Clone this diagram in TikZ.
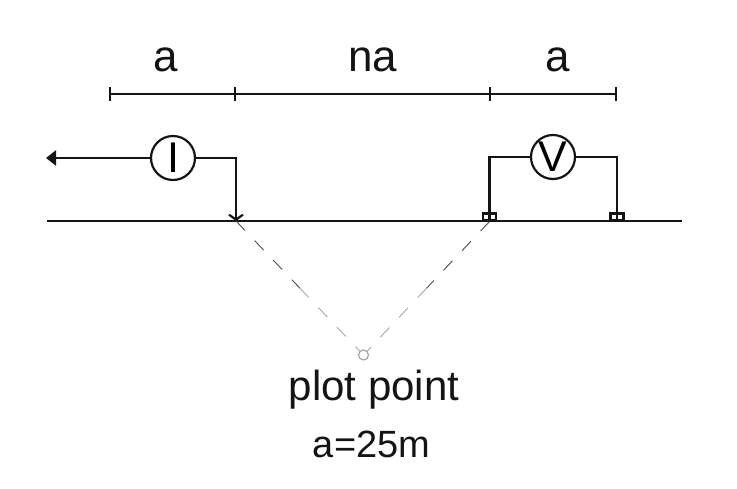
\documentclass[tikz,border=0pt]{standalone}
\usepackage{fontspec}
\setmainfont{Liberation Sans}
\usetikzlibrary{arrows.meta,positioning,calc}
\definecolor{wireblack}{RGB}{20,20,20}
\definecolor{plotgray}{RGB}{165,165,165}
\tikzset{
  wire/.style={line width=2.2pt, draw=wireblack},
  meter/.style={draw=wireblack, line width=2.2pt, circle, inner sep=0pt, minimum size=44pt, fill=white, font=\fontsize{43}{45}\selectfont},
  electrode/.style={draw=wireblack, line width=2.2pt, minimum width=13pt, minimum height=7pt, inner sep=0pt},
  label/.style={text=wireblack, inner sep=0pt, font=\fontsize{44}{46}\selectfont},
  raypart/.style={dash pattern=on 13pt off 14pt, line width=0.9pt}
}
\begin{document}
\begin{tikzpicture}[x=1pt, y=-1pt]
        \useasboundingbox (0,0) rectangle (737,488);

        % Spacing bar
        \coordinate (barA) at (109,94);
        \coordinate (barB) at (236,94);
        \coordinate (barC) at (489,94);
        \coordinate (barD) at (617,94);
        \draw [wire, {Bar[width=14pt]}-{Bar[width=14pt]}] (barA) -- (barB);
        \draw [wire, line width=1.8pt] (barB) -- (barC);
        \draw [wire, {Bar[width=14pt]}-{Bar[width=14pt]}] (barC) -- (barD);
        \node [label] (labelA) at (166,59.5) {a};
        \node [label] (labelNa) at (372.5,60) {na};
        \node [label] (labelB) at (558,59.5) {a};

        % Ground
        \coordinate (groundL) at (47,221);
        \coordinate (groundR) at (682,221);
        \coordinate (current) at (236,221);
        \draw [wire] (groundL) -- (groundR);

        % Current side
        \node [meter] (ammeter) at (173,158) {I};
        \coordinate (remote) at (46,158);
        \draw [wire, -{Triangle[length=10pt,width=15pt]}] (ammeter) -- (remote);
        \draw [wire, -{Straight Barb[length=5pt,width=14pt]}] (ammeter.east) -| (current);

        % Potential side
        \node [meter] (voltmeter) at (553,157) {V};
        \node [electrode] (electrodeM) at (489.5,217) {};
        \node [electrode] (electrodeN) at (617,217) {};
        \draw [wire] (voltmeter.west) -| (electrodeM.south);
        \draw [wire] (voltmeter.east) -| (electrodeN.south);

        % Plot point
        \node [draw=plotgray, line width=1.2pt, circle, inner sep=0pt, minimum size=10pt] (plot) at (363.5,355) {};
        \draw [raypart, draw=black!70] (current) -- ($(current)!0.5!(plot)$) coordinate (midL);
        \draw [raypart, draw=plotgray] (midL) -- (plot);
        \draw [raypart, draw=black!70] (electrodeM.south) -- ($(electrodeM.south)!0.5!(plot)$) coordinate (midR);
        \draw [raypart, draw=plotgray] (midR) -- (plot);
        \node [label, font=\fontsize{42}{44}\selectfont] (plotLabel) at (374,389.5) {plot point};
        \node [label, font=\fontsize{38}{40}\selectfont] (spacing) at (371.5,444) {a=25m};
\end{tikzpicture}
\end{document}
